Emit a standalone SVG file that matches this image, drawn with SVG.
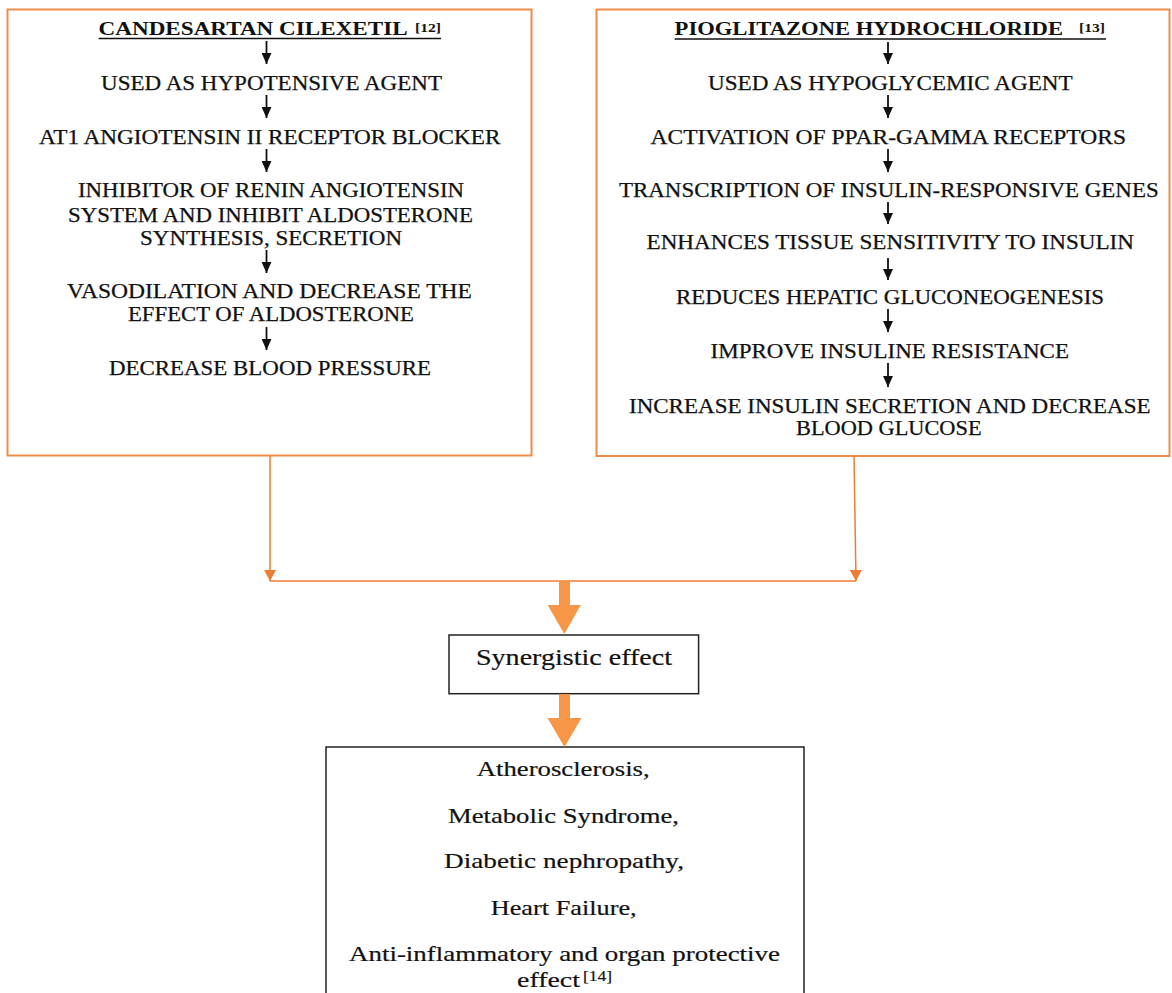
<svg xmlns="http://www.w3.org/2000/svg" width="1172" height="993" viewBox="0 0 1172 993">
<defs>
<style>
.box{fill:#fff;stroke:#EE8C4A;stroke-width:2}
.bbox{fill:#fff;stroke:#222;stroke-width:1.5}
.t{font-family:"Liberation Serif","Times New Roman",serif;font-size:20px;fill:#111;stroke:#111;stroke-width:0.25}
.h{font-family:"Liberation Serif","Times New Roman",serif;font-size:18px;font-weight:bold;fill:#111}
.sup{font-family:"Liberation Serif","Times New Roman",serif;font-size:13px;font-weight:bold;fill:#111}
.b{font-family:"Liberation Serif","Times New Roman",serif;font-size:22px;fill:#111;stroke:#111;stroke-width:0.2}
.ul{stroke:#111;stroke-width:1.3}
.ka{stroke:#111;stroke-width:1.8;fill:none;marker-end:url(#blk)}
.oc{stroke:#ED7D31;stroke-width:1.5;fill:none}
.oa{stroke:#ED7D31;stroke-width:1.5;fill:none;marker-end:url(#org)}
.big{fill:#F79646}
</style>
<marker id="blk" markerUnits="userSpaceOnUse" viewBox="0 0 11 10" refX="11" refY="5" markerWidth="11" markerHeight="10" orient="auto">
<path d="M0,0 L11,5 L0,10 z" fill="#111"/>
</marker>
<marker id="org" markerUnits="userSpaceOnUse" viewBox="0 0 11 12" refX="11" refY="6" markerWidth="11" markerHeight="12" orient="auto">
<path d="M0,0 L11,6 L0,12 z" fill="#ED7D31"/>
</marker>
</defs>
<rect width="1172" height="993" fill="#fff"/>

<g id="candesartan">
<rect class="box" x="7.5" y="9.5" width="524" height="446"/>
<text class="h" x="98.6" y="35" textLength="309" lengthAdjust="spacingAndGlyphs">CANDESARTAN CILEXETIL</text>
<text class="sup" x="415" y="31.5" textLength="26" lengthAdjust="spacingAndGlyphs">[12]</text>
<line class="ul" x1="98.6" y1="38.5" x2="441" y2="38.5"/>
<text class="t" x="101" y="89.5" textLength="341" lengthAdjust="spacingAndGlyphs">USED AS HYPOTENSIVE AGENT</text>
<text class="t" x="39" y="143.5" textLength="461.5" lengthAdjust="spacingAndGlyphs">AT1 ANGIOTENSIN II RECEPTOR BLOCKER</text>
<text class="t" x="78" y="197" textLength="386" lengthAdjust="spacingAndGlyphs">INHIBITOR OF RENIN ANGIOTENSIN</text>
<text class="t" x="68" y="222" textLength="405" lengthAdjust="spacingAndGlyphs">SYSTEM AND INHIBIT ALDOSTERONE</text>
<text class="t" x="140" y="245" textLength="262" lengthAdjust="spacingAndGlyphs">SYNTHESIS, SECRETION</text>
<text class="t" x="67" y="298" textLength="405" lengthAdjust="spacingAndGlyphs">VASODILATION AND DECREASE THE</text>
<text class="t" x="128" y="321" textLength="286" lengthAdjust="spacingAndGlyphs">EFFECT OF ALDOSTERONE</text>
<text class="t" x="109" y="375" textLength="322" lengthAdjust="spacingAndGlyphs">DECREASE BLOOD PRESSURE</text>
</g>

<g id="pioglitazone">
<rect class="box" x="596.5" y="9.5" width="573" height="446.5"/>
<text class="h" x="674.6" y="35" textLength="388.4" lengthAdjust="spacingAndGlyphs">PIOGLITAZONE HYDROCHLORIDE</text>
<text class="sup" x="1079" y="31.5" textLength="26" lengthAdjust="spacingAndGlyphs">[13]</text>
<line class="ul" x1="674.6" y1="39" x2="1106" y2="39"/>
<text class="t" x="708" y="89.5" textLength="364.6" lengthAdjust="spacingAndGlyphs">USED AS HYPOGLYCEMIC AGENT</text>
<text class="t" x="650.5" y="143.5" textLength="475.5" lengthAdjust="spacingAndGlyphs">ACTIVATION OF PPAR-GAMMA RECEPTORS</text>
<text class="t" x="619" y="197" textLength="539.7" lengthAdjust="spacingAndGlyphs">TRANSCRIPTION OF INSULIN-RESPONSIVE GENES</text>
<text class="t" x="646.5" y="249" textLength="487.5" lengthAdjust="spacingAndGlyphs">ENHANCES TISSUE SENSITIVITY TO INSULIN</text>
<text class="t" x="676" y="304" textLength="428" lengthAdjust="spacingAndGlyphs">REDUCES HEPATIC GLUCONEOGENESIS</text>
<text class="t" x="710.6" y="358" textLength="358.4" lengthAdjust="spacingAndGlyphs">IMPROVE INSULINE RESISTANCE</text>
<text class="t" x="629" y="413" textLength="521.5" lengthAdjust="spacingAndGlyphs">INCREASE INSULIN SECRETION AND DECREASE</text>
<text class="t" x="796" y="435" textLength="185.6" lengthAdjust="spacingAndGlyphs">BLOOD GLUCOSE</text>
</g>

<g id="synergistic">
<rect class="bbox" x="449" y="635" width="249.6" height="58.7"/>
<text class="b" x="476" y="665" style="font-size:24px" textLength="196" lengthAdjust="spacingAndGlyphs">Synergistic effect</text>
</g>

<g id="outcomes">
<rect class="bbox" x="326" y="747" width="478" height="260"/>
<text class="b" x="476.7" y="776" textLength="173" lengthAdjust="spacingAndGlyphs">Atherosclerosis,</text>
<text class="b" x="448" y="823" textLength="231" lengthAdjust="spacingAndGlyphs">Metabolic Syndrome,</text>
<text class="b" x="444" y="868" textLength="240" lengthAdjust="spacingAndGlyphs">Diabetic nephropathy,</text>
<text class="b" x="490.7" y="915" textLength="146" lengthAdjust="spacingAndGlyphs">Heart Failure,</text>
<text class="b" x="349" y="961" textLength="431" lengthAdjust="spacingAndGlyphs">Anti-inflammatory and organ protective</text>
<text class="b" x="517" y="987" textLength="63" lengthAdjust="spacingAndGlyphs">effect</text>
<text class="b" x="583" y="981" style="font-size:14px" textLength="29" lengthAdjust="spacingAndGlyphs">[14]</text>
</g>

<g id="connectors">
<line class="ka" x1="266.5" y1="41" x2="266.5" y2="64"/>
<line class="ka" x1="266.5" y1="95" x2="266.5" y2="118"/>
<line class="ka" x1="266.5" y1="149" x2="266.5" y2="172"/>
<line class="ka" x1="266.5" y1="250" x2="266.5" y2="273"/>
<line class="ka" x1="266.5" y1="327" x2="266.5" y2="350"/>
<line class="ka" x1="888" y1="42" x2="888" y2="64"/>
<line class="ka" x1="888" y1="95" x2="888" y2="118"/>
<line class="ka" x1="888" y1="149" x2="888" y2="172"/>
<line class="ka" x1="888" y1="202" x2="888" y2="224"/>
<line class="ka" x1="888" y1="258" x2="888" y2="280"/>
<line class="ka" x1="888" y1="309" x2="888" y2="332"/>
<line class="ka" x1="888" y1="363" x2="888" y2="387"/>
<line class="oa" x1="270" y1="456" x2="270" y2="581"/>
<line class="oa" x1="854" y1="456" x2="856" y2="581"/>
<line class="oc" x1="270" y1="581" x2="856" y2="581"/>
<path class="big" d="M559,581 H570 V605 H580.8 L564.3,634 L547.7,605 H559 Z"/>
<path class="big" d="M559,694 H570 V718 H581.5 L564.5,747 L547.5,718 H559 Z"/>
</g>
</svg>
